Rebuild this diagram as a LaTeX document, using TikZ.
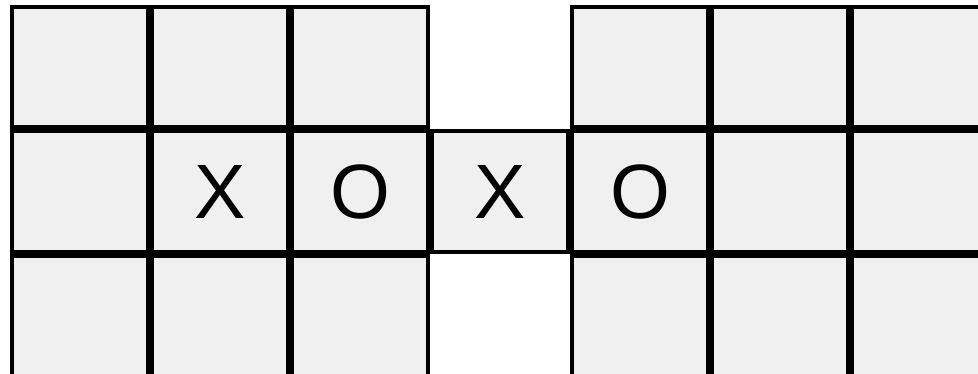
\documentclass[tikz,border=0pt]{standalone}
\usepackage{fontspec}
\setmainfont{Liberation Sans}
\definecolor{cellgray}{HTML}{F0F0F0}
\tikzset{
  cell/.style={draw=black, fill=cellgray, line width=4pt, inner sep=0pt,
    minimum width=136pt, minimum height=120.5pt, font=\fontsize{77}{77}\selectfont},
}
\begin{document}
\begin{tikzpicture}[x=1pt,y=-1pt]
\useasboundingbox[fill=white] (0,0) rectangle (978,374);
\foreach \r/\y in {1/67.25,2/191.75,3/316.25}{
  \foreach \c/\x in {1/80,2/220,3/360}{
    \node[cell] (L-\r-\c) at (\x,\y) {};
  }
  \foreach \c/\x in {1/640,2/780,3/920}{
    \node[cell] (R-\r-\c) at (\x,\y) {};
  }
}
\node[cell] (M) at (500,191.75) {};
\node at (L-2-2) {\fontsize{77}{77}\selectfont X};
\node at (L-2-3) {\fontsize{77}{77}\selectfont O};
\node at (M) {\fontsize{77}{77}\selectfont X};
\node at (R-2-1) {\fontsize{77}{77}\selectfont O};
\end{tikzpicture}
\end{document}
